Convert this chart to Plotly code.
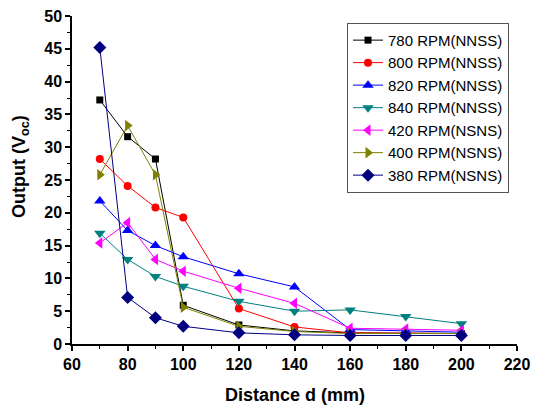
import plotly.graph_objects as go

distance = [70, 80, 90, 100, 120, 140, 160, 180, 200]

names = ["780 RPM(NNSS)", "800 RPM(NNSS)", "820 RPM(NNSS)", "840 RPM(NNSS)",
         "420 RPM(NSNS)", "400 RPM(NSNS)", "380 RPM(NSNS)"]

rpm780 = [37.2, 31.6, 28.2, 5.9, 2.9, 2.0, 1.7, 1.6, 1.6]
rpm800 = [28.2, 24.1, 20.8, 19.3, 5.4, 2.6, 1.7, 1.6, 1.6]
rpm820 = [21.8, 17.3, 15.0, 13.3, 10.7, 8.7, 2.2, 2.0, 1.8]
rpm840 = [16.9, 12.9, 10.3, 8.8, 6.5, 5.0, 5.2, 4.2, 3.1]
rpm420 = [15.4, 18.5, 12.9, 11.1, 8.5, 6.2, 2.4, 2.3, 2.1]
rpm400 = [25.8, 33.3, 25.8, 5.6, 2.7, 1.9, 1.6, 1.6, 1.6]
rpm380 = [45.2, 7.1, 4.0, 2.7, 1.7, 1.4, 1.3, 1.3, 1.3]

series = [rpm780, rpm800, rpm820, rpm840, rpm420, rpm400, rpm380]
colors = ["#000000", "#ff0000", "#0000ff", "#008080", "#ff00ff", "#808000", "#000080"]
symbols = ["square", "circle", "triangle-up", "triangle-down", "triangle-left", "triangle-right", "diamond"]
sizes = [7, 8, 10, 10, 10, 10, 10]

FONT = "Liberation Sans, Arial, sans-serif"

fig = go.Figure()
for n, s, c, sym, sz in zip(names, series, colors, symbols, sizes):
    fig.add_trace(go.Scatter(
        x=distance, y=s, name=n, mode="lines+markers",
        line=dict(color=c, width=1),
        marker=dict(symbol=sym, color=c, size=sz),
    ))

axis_common = dict(
    showline=True, linecolor="black", linewidth=1.5, mirror=False,
    ticks="outside", ticklen=5, tickwidth=1.5, tickcolor="black",
    showgrid=False, zeroline=False, automargin=False,
    ticklabeloverflow="allow",
    tickfont=dict(family=FONT, size=16, color="black", weight="bold"),
)

fig.update_xaxes(
    range=[60, 220], dtick=20, tick0=60,
    minor=dict(ticks="outside", ticklen=3, tickwidth=1, tickcolor="black", dtick=10),
    **axis_common,
)
fig.update_yaxes(
    range=[0, 50], dtick=5, tick0=0,
    minor=dict(ticks="outside", ticklen=3, tickwidth=1, tickcolor="black", dtick=2.5),
    **axis_common,
)

fig.add_annotation(
    text="<b>Distance d (mm)</b>", xref="paper", yref="paper",
    x=0.5, y=0, yshift=-51, xanchor="center", yanchor="middle",
    showarrow=False, font=dict(family=FONT, size=18, color="black"),
)
fig.add_annotation(
    text="<b>Output (V<sub>oc</sub>)</b>", xref="paper", yref="paper",
    x=0, y=0.54, xshift=-51, xanchor="center", yanchor="middle", textangle=-90,
    showarrow=False, font=dict(family=FONT, size=18, color="black"),
)

# page body adds an 8px margin, so the figure is sized/placed to compensate
fig.update_layout(
    width=539, height=397,
    margin=dict(l=64, r=30, t=8, b=61, autoexpand=False),
    paper_bgcolor="white", plot_bgcolor="white",
    font=dict(family=FONT, color="black"),
    legend=dict(
        x=0.618, y=0.979, xanchor="left", yanchor="top",
        bgcolor="white", bordercolor="#555555", borderwidth=1,
        font=dict(family=FONT, size=15, color="black"),
        tracegroupgap=0, itemwidth=30,
    ),
)

fig.write_html("out.html")
